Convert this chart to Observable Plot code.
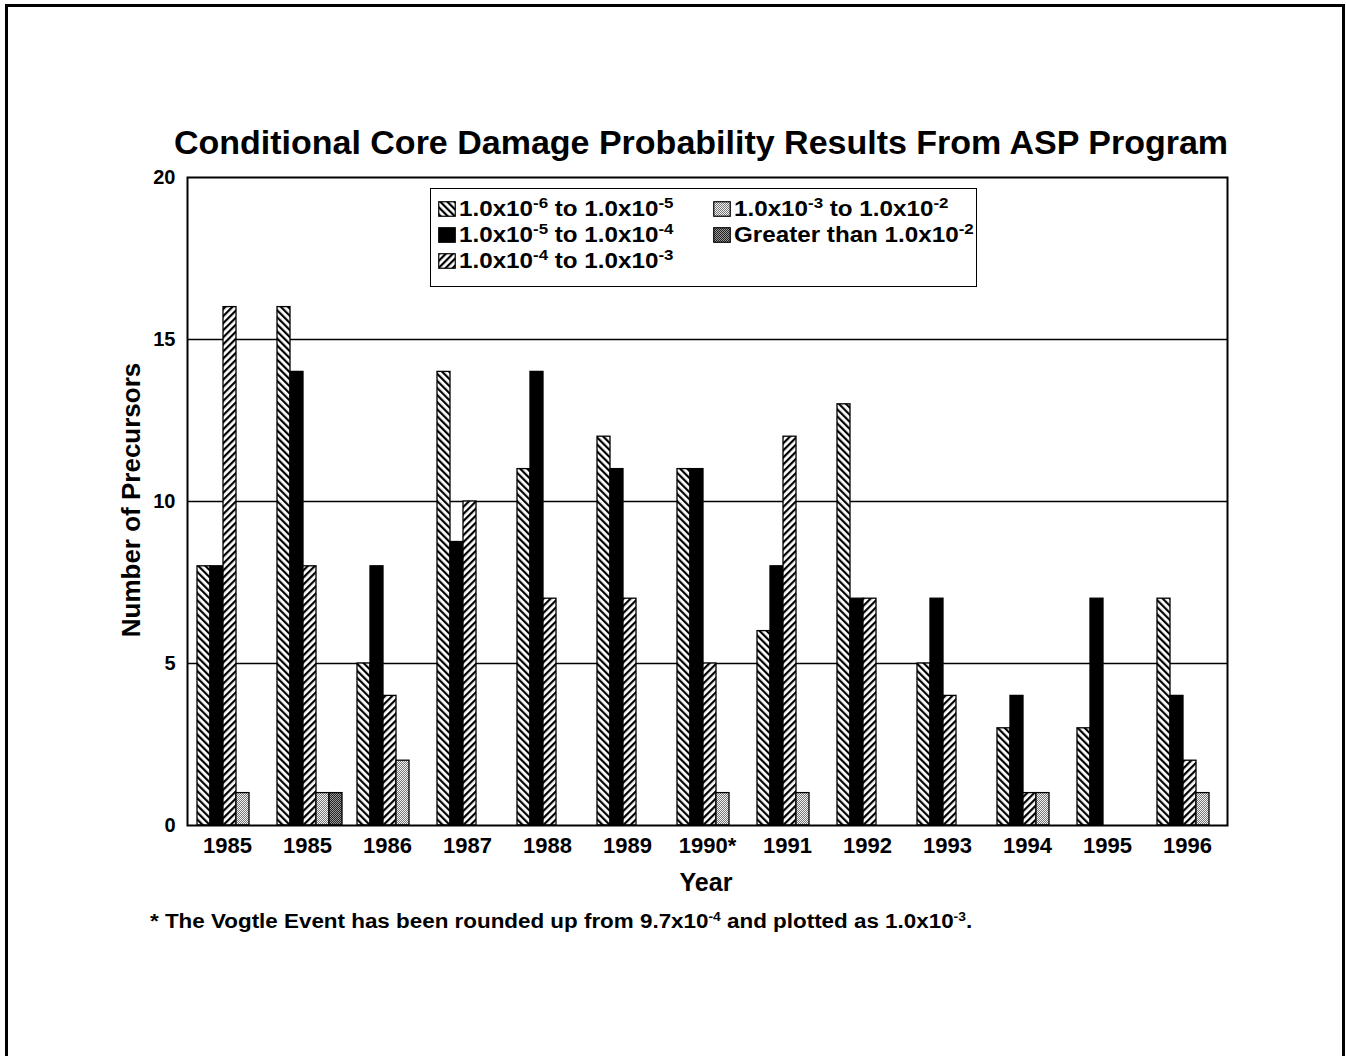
<!DOCTYPE html>
<html>
<head>
<meta charset="utf-8">
<script src="https://cdn.jsdelivr.net/npm/d3@7"></script>
<script src="https://cdn.jsdelivr.net/npm/@observablehq/plot@0.6"></script>
<style>
  html, body { margin: 0; padding: 0; background: white; }
  body { font-family: "Liberation Sans", Arial, Helvetica, sans-serif; font-weight: bold; color: black; }
  #page { position: relative; width: 1346px; height: 1056px; overflow: hidden; background: white; }
  #border { position: absolute; left: 5px; top: 4px; width: 1340px; height: 1100px; box-sizing: border-box;
            border: 3px solid black; border-bottom: none; }
  #title { position: absolute; left: 0; width: 1402px; top: 123px; text-align: center; font-size: 34px; white-space: nowrap; }
  #chart { position: absolute; left: 0; top: 160px; }
  #ylabel { position: absolute; left: 131px; top: 500px; transform: translate(-50%, -50%) rotate(-90deg);
            font-size: 26px; white-space: nowrap; }
  #xlabel { position: absolute; left: 706px; top: 882px; transform: translate(-50%, -50%); font-size: 25px; }
  #note { position: absolute; left: 150px; top: 910px; font-size: 20px; white-space: nowrap;
          transform: scaleX(1.12); transform-origin: left center; }
  #legend { position: absolute; left: 430px; top: 188px; width: 547px; height: 99px; box-sizing: border-box;
            border: 1.5px solid black; background: white; }
  .item { position: absolute; display: flex; align-items: center; font-size: 22px; white-space: nowrap; height: 24px; }
  .item svg { margin-right: 3px; flex: none; }
  .item span { display: inline-block; transform: scaleX(1.1); transform-origin: left center; }
  sup { font-size: 0.62em; vertical-align: 0.55em; line-height: 0; }
  .item sup { font-size: 0.7em; }
</style>
</head>
<body>
<svg width="0" height="0" style="position:absolute">
  <defs>
    <pattern id="pat0" patternUnits="userSpaceOnUse" width="5" height="5" patternTransform="rotate(-45)">
      <rect width="5" height="5" fill="white"/><rect x="0" y="0" width="2.2" height="5" fill="black"/>
    </pattern>
    <pattern id="pat1" patternUnits="userSpaceOnUse" width="4" height="4">
      <rect width="4" height="4" fill="black"/>
    </pattern>
    <pattern id="pat2" patternUnits="userSpaceOnUse" width="5" height="5" patternTransform="rotate(45)">
      <rect width="5" height="5" fill="white"/><rect x="0" y="0" width="2.2" height="5" fill="black"/>
    </pattern>
    <pattern id="pat3" patternUnits="userSpaceOnUse" width="2" height="2">
      <rect width="2" height="2" fill="#f2f2f2"/><rect x="0" y="0" width="1" height="1" fill="#777"/><rect x="1" y="1" width="1" height="1" fill="#777"/>
    </pattern>
    <pattern id="pat4" patternUnits="userSpaceOnUse" width="2" height="2">
      <rect width="2" height="2" fill="#999"/><rect x="0" y="0" width="1" height="1" fill="#222"/><rect x="1" y="1" width="1" height="1" fill="#222"/>
    </pattern>
  </defs>
</svg>
<div id="page">
  <div id="border"></div>
  <div id="title">Conditional Core Damage Probability Results From ASP Program</div>
  <div id="chart"></div>
  <div id="legend"></div>
  <div id="ylabel">Number of Precursors</div>
  <div id="xlabel">Year</div>
  <div id="note">* The Vogtle Event has been rounded up from 9.7x10<sup>-4</sup> and plotted as 1.0x10<sup>-3</sup>.</div>
</div>
<script>
// ---- data ----
const years = ["1985", "1985", "1986", "1987", "1988", "1989", "1990*", "1991", "1992", "1993", "1994", "1995", "1996"];
const seriesNames = ["1.0x10^-6 to 1.0x10^-5", "1.0x10^-5 to 1.0x10^-4", "1.0x10^-4 to 1.0x10^-3", "1.0x10^-3 to 1.0x10^-2", "Greater than 1.0x10^-2"];
const seriesHtml = [
  "1.0x10<sup>-6</sup> to 1.0x10<sup>-5</sup>",
  "1.0x10<sup>-5</sup> to 1.0x10<sup>-4</sup>",
  "1.0x10<sup>-4</sup> to 1.0x10<sup>-3</sup>",
  "1.0x10<sup>-3</sup> to 1.0x10<sup>-2</sup>",
  "Greater than 1.0x10<sup>-2</sup>"
];
const s1 = [8, 16, 5, 14, 11, 12, 11, 6, 13, 5, 3, 3, 7];
const s2 = [8, 14, 8, 8.75, 14, 11, 11, 8, 7, 7, 4, 7, 4];
const s3 = [16, 8, 4, 10, 7, 7, 5, 12, 7, 4, 1, 0, 2];
const s4 = [1, 1, 2, 0, 0, 0, 1, 1, 0, 0, 1, 0, 1];
const s5 = [0, 1, 0, 0, 0, 0, 0, 0, 0, 0, 0, 0, 0];
const yTicks = [0, 5, 10, 15, 20];

const allSeries = [s1, s2, s3, s4, s5];
const rows = [];
allSeries.forEach((vals, j) => vals.forEach((v, i) => rows.push({key: i, series: seriesNames[j], value: v, j})));

const fills = ["url(#pat0)", "url(#pat1)", "url(#pat2)", "url(#pat3)", "url(#pat4)"];

const chart = Plot.plot({
  width: 1346,
  height: 705,
  marginLeft: 184,
  marginRight: 117,
  marginTop: 17,
  marginBottom: 40,
  style: {fontFamily: "'Liberation Sans', Arial, sans-serif", fontWeight: "bold", background: "transparent", color: "black", overflow: "visible"},
  fx: {domain: d3.range(years.length), paddingInner: 0, paddingOuter: 0},
  x: {domain: seriesNames, paddingInner: 0, paddingOuter: 0.52, align: 0.65, axis: null},
  y: {domain: [0, 20]},
  marks: [
    Plot.ruleY([5, 10, 15], {stroke: "black", strokeWidth: 1.4}),
    ...seriesNames.map((s, j) => Plot.barY(rows.filter(d => d.j === j && d.value > 0), {
      fx: "key", x: "series", y: "value", fill: fills[j], stroke: "black", strokeWidth: 1.3, inset: 0
    })),
    Plot.frame({facet: "super", stroke: "black", strokeWidth: 2}),
    Plot.axisY({ticks: yTicks, tickSize: 0, tickPadding: 12, fontSize: 20, label: null}),
    Plot.axisFx({anchor: "bottom", tickSize: 0, tickPadding: 12, fontSize: 22, label: null, tickFormat: i => years[i]})
  ]
});
document.getElementById("chart").appendChild(chart);

// ---- legend ----
const legend = document.getElementById("legend");
const pos = [[7, 8], [7, 34], [7, 60], [282, 8], [282, 34]];
seriesHtml.forEach((h, j) => {
  const it = document.createElement("div");
  it.className = "item";
  it.style.left = pos[j][0] + "px";
  it.style.top = pos[j][1] + "px";
  it.innerHTML = `<svg width="18" height="16"><rect x="0.75" y="0.75" width="16.5" height="14.5" fill="${fills[j]}" stroke="black" stroke-width="1.2"/></svg><span>${h}</span>`;
  legend.appendChild(it);
});
</script>
</body>
</html>
